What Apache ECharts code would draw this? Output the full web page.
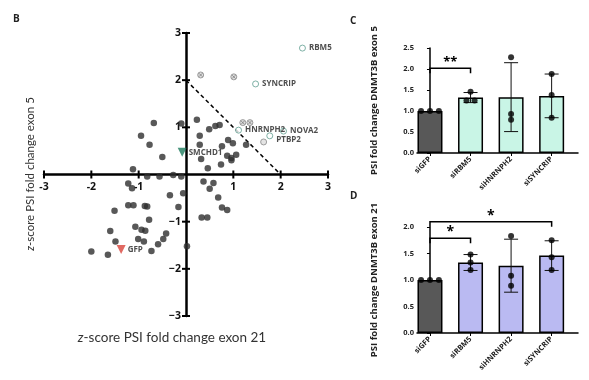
<!DOCTYPE html>
<html><head><meta charset="utf-8">
<script src="https://cdn.jsdelivr.net/npm/echarts@6/dist/echarts.min.js"></script>
<style>html,body{margin:0;padding:0;background:#fff}#c{width:589px;height:380px}</style>
</head><body><div id="c"></div>
<script>
// ---------- Panel B data ----------
var bTicks = [-3, -2, -1, 1, 2, 3];
var otherX = [-0.68,-0.95,-0.77,-0.50,-1.12,-1.22,-1.14,-0.82,-0.56,-0.27,-0.10,-0.34,-0.06,-0.16,-1.51,-1.22,-1.11,-0.87,-0.82,-0.78,-1.07,-0.94,-0.86,-1.60,-1.49,-1.01,-0.89,-2.00,-1.65,-0.73,-0.59,-0.48,-0.42,0.02,-0.10,
  0.23,0.29,0.29,0.32,0.49,0.62,0.71,0.76,0.89,0.99,0.87,0.96,0.96,1.06,1.27,0.46,0.74,0.37,0.50,0.58,0.68,0.76,0.87,0.33,0.45];
var otherY = [1.09,0.82,0.63,0.37,0.11,-0.19,-0.29,-0.04,-0.04,-0.01,-0.04,-0.44,-0.40,-0.69,-0.77,-0.65,-0.65,-0.67,-0.68,-0.96,-1.11,-1.17,-1.19,-1.20,-1.42,-1.37,-1.42,-1.63,-1.70,-1.62,-1.48,-1.37,-1.25,-1.52,1.08,
  1.16,0.82,0.63,0.33,0.96,1.03,1.05,0.60,0.73,0.66,0.40,0.35,0.30,0.42,0.63,0.13,0.21,-0.15,-0.30,-0.18,-0.49,-0.70,-0.75,-0.91,-0.91];
var hitNames = ['RBM5', 'SYNCRIP', 'HNRNPH2', 'NOVA2', 'PTBP2'];
var hitX = [2.46, 1.47, 1.11, 2.06, 1.77];
var hitY = [2.68, 1.92, 0.94, 0.92, 0.82];
var crossedX = [0.31, 1.01, 1.20, 1.35];
var crossedY = [2.11, 2.07, 1.10, 1.10];
var greyX = [1.64];
var greyY = [0.69];
var ctrlNames = ['SMCHD1', 'GFP'];
var ctrlX = [-0.08, -1.37];
var ctrlY = [0.47, -1.59];
var cutoffX = [0, 2];
var cutoffY = [2, 0];

// ---------- Panels C / D data ----------
var categories = ['siGFP', 'siRBM5', 'siHNRNPH2', 'siSYNCRIP'];
var meanC = [1.00, 1.32, 1.33, 1.36];
var sdC = [0, 0.12, 0.82, 0.52];
var dotsC = [[1.00, 1.00, 1.00], [1.46, 1.25, 1.25], [2.28, 0.93, 0.79], [1.88, 1.38, 0.84]];
var meanD = [1.00, 1.33, 1.27, 1.46];
var sdD = [0, 0.15, 0.50, 0.28];
var dotsD = [[1.00, 1.00, 1.00], [1.48, 1.33, 1.19], [1.83, 1.08, 0.89], [1.75, 1.43, 1.19]];
var sigC = [{ from: 0, to: 1, y: 2.02, text: '**' }];
var sigD = [{ from: 0, to: 1, y: 1.79, text: '*' }, { from: 0, to: 3, y: 2.10, text: '*' }];
var ticksC = [0, 0.5, 1.0, 1.5, 2.0, 2.5];
var ticksD = [0, 0.5, 1.0, 1.5, 2.0];

// ---------- styling (not data) ----------
var FONT = 'Open Sans';
var TFONT = 'Lato';
var jitterC = [[-0.22, 0, 0.22], [0, -0.1, 0.1], [0, 0, 0], [0, 0, 0]];
var jitterD = [[-0.22, 0, 0.22], [0, 0, 0], [0, 0, 0], [0, 0, 0]];
var colGFP = '#585858', colC = '#c9f5e6', colD = '#babaf2';

function zip(xs, ys) { return xs.map(function (x, i) { return [x, ys[i]]; }); }

function bAxis() {
  return {
    type: 'value', min: -3, max: 3, interval: 1, gridIndex: 0,
    axisLine: { onZero: true, lineStyle: { color: '#000', width: 2.5 } },
    axisTick: { show: false },
    axisLabel: { show: false },
    splitLine: { show: false }
  };
}

function barXAxis(gi) {
  return {
    type: 'value', gridIndex: gi, min: -0.32, max: 3.65,
    axisLine: { onZero: false, lineStyle: { color: '#000', width: 1.5 } },
    axisTick: { show: true, length: 3, customValues: [0, 1, 2, 3], lineStyle: { color: '#000', width: 1 } },
    axisLabel: { fontFamily: FONT, fontWeight: 'bold', fontSize: 7.5, color: '#222', rotate: 45, margin: 5,
      customValues: [0, 1, 2, 3], formatter: function (v) { return categories[Math.round(v)]; } },
    splitLine: { show: false }
  };
}
function barYAxis(gi, max, ticks, name) {
  return {
    type: 'value', gridIndex: gi, min: 0, max: max, interval: 0.5,
    name: name, nameLocation: 'middle', nameGap: 38, nameRotate: 90,
    nameTextStyle: { fontFamily: FONT, fontWeight: 'bold', fontSize: 9.5, color: '#222' },
    axisLine: { show: true, lineStyle: { color: '#000', width: 1.5 } },
    axisTick: { show: true, length: 3, lineStyle: { color: '#000', width: 1 } },
    axisLabel: { fontFamily: FONT, fontWeight: 'bold', fontSize: 7.5, color: '#222', margin: 3, customValues: ticks,
      formatter: function (v) { return v.toFixed(1); } },
    splitLine: { show: false }
  };
}

function barSeries(ai, means, col) {
  return {
    type: 'bar', xAxisIndex: ai, yAxisIndex: ai, barWidth: 25, z: 2,
    data: means.map(function (m, i) {
      return { value: [i, m], itemStyle: { color: i === 0 ? colGFP : col, borderColor: '#000', borderWidth: 1.5 } };
    })
  };
}
function errSeries(ai, means, sds) {
  return {
    type: 'custom', xAxisIndex: ai, yAxisIndex: ai, z: 4, clip: false,
    data: means.map(function (m, i) { return [i, m, sds[i]]; }),
    renderItem: function (p, api) {
      var x = api.value(0), m = api.value(1), s = api.value(2);
      if (!s) return null;
      var t = api.coord([x, m + s]), b = api.coord([x, m - s]);
      var st = { stroke: '#111', lineWidth: 1 };
      return { type: 'group', children: [
        { type: 'line', shape: { x1: t[0], y1: t[1], x2: b[0], y2: b[1] }, style: st },
        { type: 'line', shape: { x1: t[0] - 7, y1: t[1], x2: t[0] + 7, y2: t[1] }, style: st },
        { type: 'line', shape: { x1: b[0] - 7, y1: b[1], x2: b[0] + 7, y2: b[1] }, style: st }
      ] };
    }
  };
}
function dotSeries(ai, dots, jit) {
  var d = [];
  dots.forEach(function (arr, i) { arr.forEach(function (v, k) { d.push([i + jit[i][k], v]); }); });
  return { type: 'scatter', xAxisIndex: ai, yAxisIndex: ai, z: 5, symbolSize: 6, itemStyle: { color: '#000' }, data: d };
}
function sigSeries(ai, sig, fs) {
  return {
    type: 'custom', xAxisIndex: ai, yAxisIndex: ai, z: 6, clip: false,
    data: sig.map(function (s) { return [s.from, s.to, s.y]; }),
    renderItem: function (p, api) {
      var a = api.coord([api.value(0), api.value(2)]), b = api.coord([api.value(1), api.value(2)]);
      var h = 5;
      return { type: 'group', children: [
        { type: 'polyline', shape: { points: [[a[0], a[1] + h], [a[0], a[1]], [b[0], b[1]], [b[0], b[1] + h]] },
          style: { stroke: '#000', lineWidth: 1.5, fill: null } },
        { type: 'text', x: (a[0] + b[0]) / 2, y: a[1] - 6,
          style: { text: sig[p.dataIndex].text, fontSize: fs, fontWeight: 'bold', fontFamily: FONT, fill: '#000', align: 'center', verticalAlign: 'middle' } }
      ] };
    }
  };
}

var chart = echarts.init(document.getElementById('c'), null, { renderer: 'canvas' });
var lblStyle = { fontFamily: FONT, fontWeight: 'bold', fontSize: 8, color: '#222' };
chart.setOption({
  animation: false,
  backgroundColor: '#fff',
  grid: [
    { left: 44, top: 33, width: 284, height: 283 },
    { left: 417, top: 48, width: 161, height: 105 },
    { left: 417, top: 227, width: 161, height: 106 }
  ],
  xAxis: [bAxis(), barXAxis(1), barXAxis(2)],
  yAxis: [bAxis(),
    barYAxis(1, 2.5, ticksC, 'PSI fold change DNMT3B exon 5'),
    barYAxis(2, 2.0, ticksD, 'PSI fold change DNMT3B exon 21')],
  graphic: [
    { type: 'text', left: 13, top: 14, style: { text: 'B', fontFamily: FONT, fontWeight: 'bold', fontSize: 10, fill: '#222' } },
    { type: 'text', left: 350, top: 16, style: { text: 'C', fontFamily: FONT, fontWeight: 'bold', fontSize: 10, fill: '#222' } },
    { type: 'text', left: 350, top: 191, style: { text: 'D', fontFamily: FONT, fontWeight: 'bold', fontSize: 10, fill: '#222' } },
    { type: 'text', x: 172, y: 338, style: { text: '{i|z}-score PSI fold change exon 21', fontFamily: TFONT, fontSize: 13.5, fill: '#333', align: 'center', verticalAlign: 'middle',
      rich: { i: { fontFamily: TFONT, fontSize: 13.5, fontStyle: 'italic', fill: '#333' } } } },
    { type: 'text', x: 30, y: 174, rotation: Math.PI / 2, style: { text: '{i|z}-score PSI fold change exon 5', fontFamily: TFONT, fontSize: 11.5, fill: '#333', align: 'center', verticalAlign: 'middle',
      rich: { i: { fontFamily: TFONT, fontSize: 11.5, fontStyle: 'italic', fill: '#333' } } } }
  ],
  series: [
    { type: 'custom', xAxisIndex: 0, yAxisIndex: 0, z: 3, clip: false,
      data: bTicks.map(function (v) { return [v]; }),
      renderItem: function (p, api) {
        var v = api.value(0), a = api.coord([v, 0]), b = api.coord([0, v]), L = 4;
        var st = { stroke: '#000', lineWidth: 2 };
        var ts = { fontFamily: FONT, fontWeight: 'bold', fontSize: 10.5, fill: '#111', verticalAlign: 'middle' };
        return { type: 'group', children: [
          { type: 'line', shape: { x1: a[0], y1: a[1] - L, x2: a[0], y2: a[1] + L }, style: st },
          { type: 'line', shape: { x1: b[0] - L, y1: b[1], x2: b[0] + L, y2: b[1] }, style: st },
          { type: 'text', x: a[0], y: a[1] + 13, style: Object.assign({ text: String(v), align: 'center' }, ts) },
          { type: 'text', x: b[0] - 5, y: b[1], style: Object.assign({ text: String(v).replace('-', '\u2212'), align: 'right' }, ts) }
        ] };
      } },
    { type: 'line', xAxisIndex: 0, yAxisIndex: 0, data: zip(cutoffX, cutoffY), symbol: 'none', z: 2,
      lineStyle: { color: '#000', width: 1.5, type: [4, 3] } },
    { type: 'scatter', xAxisIndex: 0, yAxisIndex: 0, data: zip(otherX, otherY), symbolSize: 6.5, z: 3, itemStyle: { color: '#2e2e2e' } },
    { type: 'scatter', xAxisIndex: 0, yAxisIndex: 0, data: zip(crossedX, crossedY), symbolSize: 6, z: 3,
      itemStyle: { color: '#d6d6d6', borderColor: '#888', borderWidth: 1 } },
    { type: 'scatter', xAxisIndex: 0, yAxisIndex: 0, data: zip(crossedX, crossedY), symbol: 'path://M0,0L10,10M10,0L0,10', symbolSize: 3.5, z: 4,
      itemStyle: { color: 'none', borderColor: '#666', borderWidth: 0.8 } },
    { type: 'scatter', xAxisIndex: 0, yAxisIndex: 0, data: zip(greyX, greyY), symbolSize: 6, z: 3,
      itemStyle: { color: '#ddd', borderColor: '#888', borderWidth: 1 } },
    { type: 'scatter', xAxisIndex: 0, yAxisIndex: 0, symbolSize: 6, z: 3,
      data: hitNames.map(function (n, i) { return { name: n, value: [hitX[i], hitY[i]],
        label: { offset: n === 'PTBP2' ? [0, 4] : [0, 0] } }; }),
      itemStyle: { color: '#fff', borderColor: '#5f9e90', borderWidth: 1 },
      label: Object.assign({ show: true, position: 'right', distance: 3, formatter: '{b}' }, lblStyle) },
    { type: 'scatter', xAxisIndex: 0, yAxisIndex: 0, symbol: 'triangle', symbolRotate: 180, symbolSize: 9, z: 4,
      data: ctrlNames.map(function (n, i) { return { name: n, value: [ctrlX[i], ctrlY[i]],
        itemStyle: { color: i === 0 ? '#1d7a5c' : '#d9433b' } }; }),
      label: Object.assign({ show: true, position: 'right', distance: 2, formatter: '{b}' }, lblStyle) },
    barSeries(1, meanC, colC), errSeries(1, meanC, sdC), dotSeries(1, dotsC, jitterC), sigSeries(1, sigC, 13),
    barSeries(2, meanD, colD), errSeries(2, meanD, sdD), dotSeries(2, dotsD, jitterD), sigSeries(2, sigD, 14)
  ]
});
</script></body></html>
